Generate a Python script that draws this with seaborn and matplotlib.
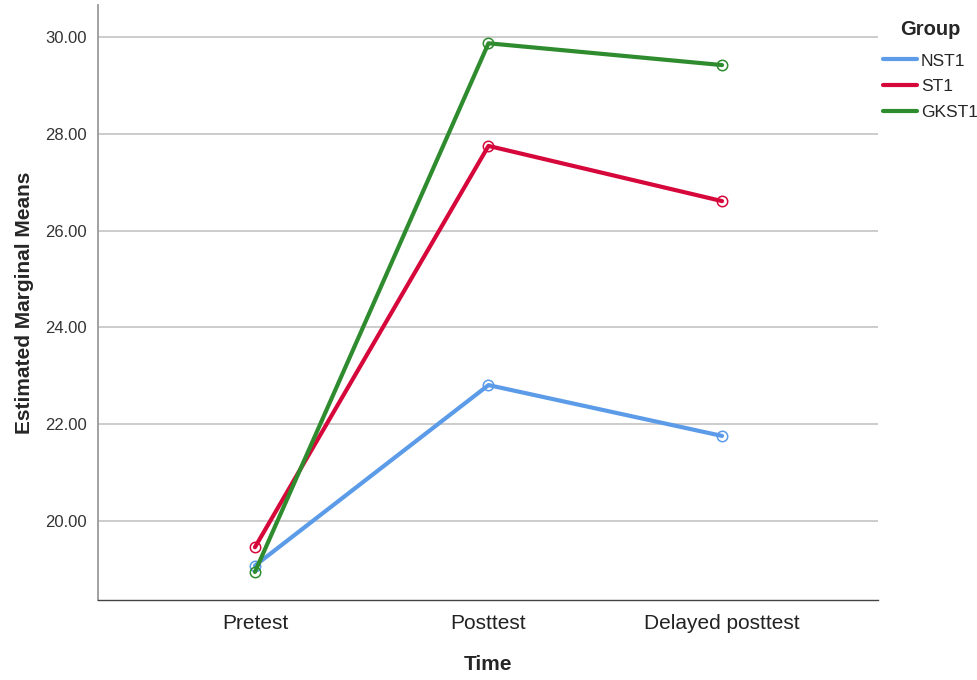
import matplotlib
matplotlib.use("Agg")
import pandas as pd
import seaborn as sns
from matplotlib import pyplot as plt

# values
times = ["Pretest", "Posttest", "Delayed posttest"]
groups = ["NST1", "ST1", "GKST1"]
nst1 = [19.08, 22.81, 21.76]
st1 = [19.46, 27.75, 26.61]
gkst1 = [18.95, 29.87, 29.42]
y_ticks = [20, 22, 24, 26, 28, 30]

palette = {"NST1": "#5b9be8", "ST1": "#d6083b", "GKST1": "#2e8b2e"}

data = pd.DataFrame({
    "Time": times * 3,
    "Group": [g for g in groups for _ in times],
    "Estimated Marginal Means": nst1 + st1 + gkst1,
})

sns.set_style("white")
plt.rcParams["font.family"] = ["Liberation Sans", "DejaVu Sans"]

fig = plt.figure(figsize=(9.78, 6.8), dpi=100)
ax = fig.add_axes([0.1002, 0.1176, 0.7976, 0.875])

sns.lineplot(data, x="Time", y="Estimated Marginal Means", hue="Group",
             hue_order=groups, palette=palette, linewidth=3, marker="o",
             sort=False, ax=ax, zorder=3)

# hollow circle markers like the SPSS output
for line in ax.lines:
    line.set_markerfacecolor("none")
    line.set_markeredgecolor(line.get_color())
    line.set_markersize(7.5)
    line.set_markeredgewidth(1.1)

ax.set_xlim(-0.672, 2.668)
ax.set_ylim(18.37, 30.66)
ax.set_yticks(y_ticks)
ax.set_yticklabels([f"{v:.2f}" for v in y_ticks], fontsize=12, color="#333333")
ax.tick_params(axis="x", labelsize=15, colors="#222222", length=0, pad=10)
ax.tick_params(axis="y", length=0, pad=8)
ax.grid(axis="y", color="#c8c8c8", linewidth=1.3)
ax.set_axisbelow(True)

for side in ["top", "right"]:
    ax.spines[side].set_visible(False)
ax.spines["left"].set_color("#9a9a9a")
ax.spines["left"].set_linewidth(1.3)
ax.spines["bottom"].set_color("#444444")
ax.spines["bottom"].set_linewidth(1.0)

ax.set_xlabel("Time", fontsize=15, fontweight="bold", labelpad=16)
ax.set_ylabel("Estimated Marginal Means", fontsize=15, fontweight="bold", labelpad=8)

handles, labels = ax.get_legend_handles_labels()
for h in handles:
    h.set_marker("")
ax.get_legend().remove()
leg = fig.legend(handles, labels, title="Group", loc="upper left",
                 bbox_to_anchor=(0.899, 0.975), frameon=False, fontsize=12.5,
                 title_fontproperties={"weight": "bold", "size": 14.5},
                 handlelength=2.0, handletextpad=0.2, labelspacing=0.6,
                 borderaxespad=0.0, borderpad=0.2, alignment="center")
leg._legend_box.sep = 10

fig.savefig("out.png", dpi=100)
